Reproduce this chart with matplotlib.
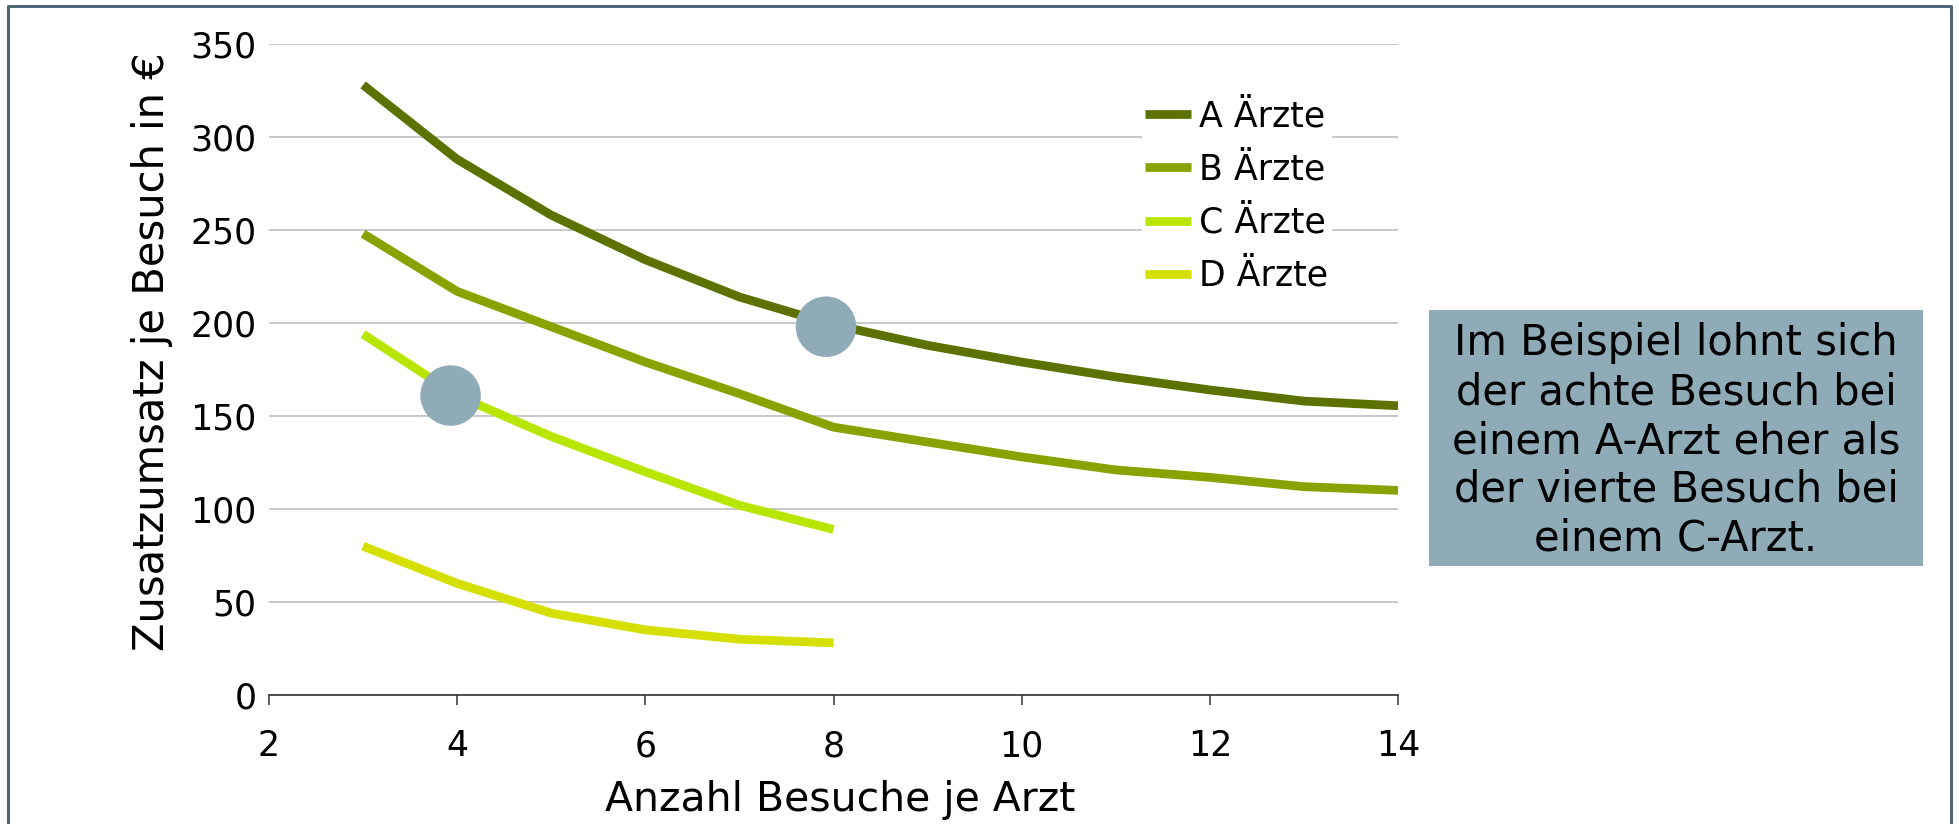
import matplotlib
matplotlib.use("Agg")
import matplotlib.pyplot as plt
from matplotlib.lines import Line2D
from matplotlib.patches import Rectangle

plt.rcParams['font.family'] = ['DejaVu Sans']

# ---- data ----
visits_ab = [3, 4, 5, 6, 7, 8, 9, 10, 11, 12, 13, 14]
visits_cd = [3, 4, 5, 6, 7, 8]
a_aerzte = [328, 288, 258, 234, 214, 199, 188, 179, 171, 164, 158, 155.5]
b_aerzte = [248, 217, 198, 179, 162, 144, 136, 128, 121, 117, 112, 110]
c_aerzte = [194, 161, 139, 120, 102, 89]
d_aerzte = [80, 60, 44, 35, 30, 28]
series_labels = ["A Ärzte", "B Ärzte", "C Ärzte", "D Ärzte"]
highlight_x = [7.92, 3.93]
highlight_y = [198, 161]
x_ticks = [2, 4, 6, 8, 10, 12, 14]
y_ticks = [0, 50, 100, 150, 200, 250, 300, 350]
x_label = "Anzahl Besuche je Arzt"
y_label = "Zusatzumsatz je Besuch in €"
note = ("Im Beispiel lohnt sich\nder achte Besuch bei\neinem A-Arzt eher als\n"
        "der vierte Besuch bei\neinem C-Arzt.")

colors = ["#5b7200", "#87a300", "#b9e600", "#d5df00"]
hl_color = "#8fabb7"
W, H = 1959, 824
fig = plt.figure(figsize=(W / 100, H / 100), dpi=100)
ax = fig.add_axes([269 / W, 1 - 695 / H, (1398 - 269) / W, (695 - 44) / H])

xs = [visits_ab, visits_ab, visits_cd, visits_cd]
ys = [a_aerzte, b_aerzte, c_aerzte, d_aerzte]
for x, y, c, lab in zip(xs, ys, colors, series_labels):
    ax.plot(x, y, color=c, lw=6.3, label=lab, solid_capstyle='butt',
            solid_joinstyle='round', zorder=3)

ax.scatter(highlight_x, highlight_y, s=1900, color=hl_color, zorder=4,
           edgecolors='none')

ax.set_xlim(2, 14)
ax.set_ylim(0, 350)
ax.set_xticks(x_ticks)
ax.set_yticks(y_ticks)
ax.yaxis.grid(True, color="#c4c4c4", lw=1.3)
ax.set_axisbelow(True)
for s in ['top', 'right', 'left']:
    ax.spines[s].set_visible(False)
ax.spines['bottom'].set_color("#333333")
ax.spines['bottom'].set_linewidth(1.2)
ax.tick_params(axis='x', direction='out', length=7.5, width=1.1,
               color="#333333", labelsize=25, pad=17)
ax.tick_params(axis='y', length=0, labelsize=25, pad=9)
ax.set_xlabel(x_label, fontsize=29.5)
ax.set_ylabel(y_label, fontsize=30)
ax.yaxis.set_label_coords(-0.085, 0.527)
ax.xaxis.set_label_coords(0.506, -0.13)

leg = ax.legend(loc='upper left', bbox_to_anchor=(1142 / W, 1 - 96 / H),
                bbox_transform=fig.transFigure, frameon=True, fontsize=25,
                handlelength=1.3, handletextpad=0.25, labelspacing=0.55,
                borderpad=0.1, borderaxespad=0)
leg.get_frame().set_facecolor('white')
leg.get_frame().set_edgecolor('none')
leg.get_frame().set_alpha(1)
for h in leg.get_lines():
    h.set_linewidth(6.3)

# annotation box
fig.patches.append(Rectangle((1429 / W, 1 - 566 / H), (1923 - 1429) / W,
                             (566 - 310) / H, transform=fig.transFigure,
                             facecolor=hl_color, edgecolor='none', zorder=1))
fig.text(1676 / W, 1 - 441 / H, note, ha='center', va='center',
         fontsize=30, linespacing=1.21, zorder=2)

# figure frame (left, top, right)
frame_c = "#4f6775"
fig.add_artist(Line2D([8 / W, 8 / W, 1951 / W, 1951 / W],
                      [0, 1 - 6 / H, 1 - 6 / H, 0],
                      transform=fig.transFigure, color=frame_c, lw=2.2))

fig.savefig("out.png", dpi=100)
